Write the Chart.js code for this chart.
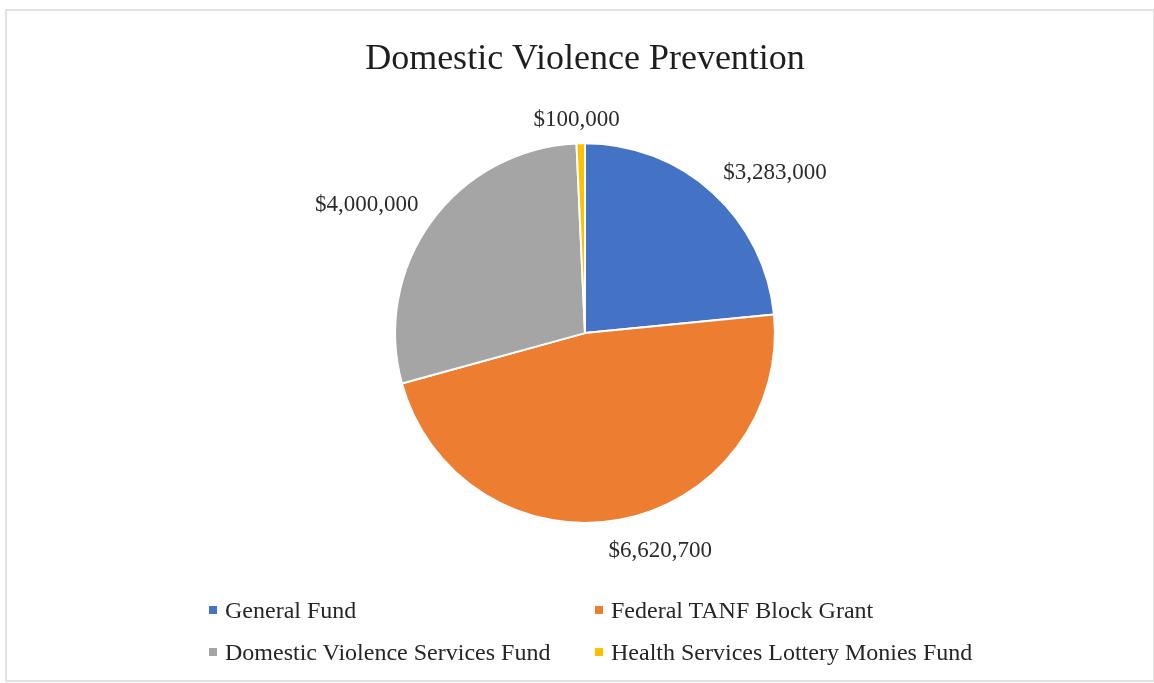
<!DOCTYPE html>
<html>
<head>
<meta charset="utf-8">
<title>Domestic Violence Prevention</title>
<script src="https://cdn.jsdelivr.net/npm/chart.js@4/dist/chart.umd.min.js"></script>
<style>
  html, body {
    margin: 0;
    padding: 0;
    background: #fff;
  }
  .chart-wrap {
    position: relative;
    width: 1154px;
    height: 683px;
    overflow: hidden;
  }
  .chart-frame {
    position: absolute;
    left: 5px;
    top: 9px;
    width: 1146px;
    height: 669px;
    border: 2px solid #e2e2e2;
  }
  .chart-wrap canvas {
    position: absolute;
    left: 0;
    top: 0;
  }
  .legend {
    position: absolute;
    left: 209px;
    top: 589px;
    display: grid;
    grid-template-columns: 386px auto;
    grid-auto-rows: 42px;
    font-family: "Liberation Serif", "Times New Roman", serif;
    font-size: 24px;
    color: #262626;
  }
  .legend-item {
    display: flex;
    align-items: center;
    white-space: nowrap;
  }
  .legend-box {
    width: 8px;
    height: 8px;
    margin-right: 8px;
    flex: none;
  }
</style>
</head>
<body>
<div class="chart-wrap">
  <div class="chart-frame"></div>
  <canvas id="dvChart"></canvas>
  <div class="legend" id="dvLegend"></div>
</div>
<script>
const chartTitle = "Domestic Violence Prevention";
const fundNames = [
  "General Fund",
  "Federal TANF Block Grant",
  "Domestic Violence Services Fund",
  "Health Services Lottery Monies Fund",
];
const fundAmounts = [3283000, 6620700, 4000000, 100000];
const fundColors = ["#4472C4", "#ED7D31", "#A5A5A5", "#FFC000"];

// legend reads across: row 1 = items 0,1 ; row 2 = items 2,3
function buildLegend() {
  const legend = document.getElementById("dvLegend");
  legend.innerHTML = fundNames
    .map(
      (name, i) => `
        <div class="legend-item">
            <span class="legend-box" style="background:${fundColors[i]}"></span>
            <span>${name}</span>
        </div>
    `
    )
    .join("");
}

function formatMoney(v) {
  return "$" + v.toLocaleString("en-US");
}

// draws the value labels just outside each slice
const outsideLabels = {
  id: "outsideLabels",
  afterDatasetsDraw(chart) {
    const ctx = chart.ctx;
    const meta = chart.getDatasetMeta(0);
    ctx.save();
    ctx.font = '23px "Liberation Serif", "Times New Roman", serif';
    ctx.fillStyle = "#2b2b2b";
    ctx.textAlign = "center";
    ctx.textBaseline = "middle";
    meta.data.forEach((arc, i) => {
      const p = arc.getProps(["x", "y", "startAngle", "endAngle", "outerRadius"], true);
      const mid = (p.startAngle + p.endAngle) / 2;
      const cos = Math.cos(mid);
      const sin = Math.sin(mid);
      const text = formatMoney(chart.data.datasets[0].data[i]);
      const halfW = ctx.measureText(text).width / 2;
      const halfH = 11.5;
      const dist = p.outerRadius + 16;
      const fx = Math.sign(cos) * Math.min(1, Math.abs(cos) * 4);
      const fy = Math.sign(sin) * Math.min(1, Math.abs(sin) * 4);
      const lx = p.x + dist * cos + halfW * fx;
      const ly = p.y + dist * sin + halfH * fy + 4;
      ctx.fillText(text, lx, ly);
    });
    ctx.restore();
  },
};

function renderChart() {
  const ctx = document.getElementById("dvChart");
  if (!ctx) {
    console.error("Canvas for the chart not found!");
    return;
  }

  new Chart(ctx, {
    type: "pie",
    data: {
      labels: fundNames,
      datasets: [
        {
          data: fundAmounts,
          backgroundColor: fundColors,
          borderColor: "#ffffff",
          borderWidth: 2,
        },
      ],
    },
    options: {
      responsive: true,
      maintainAspectRatio: false,
      animation: false,
      layout: {
        padding: { left: 16, right: 0, top: 0, bottom: 159 },
      },
      plugins: {
        legend: { display: false },
        tooltip: { enabled: false },
        title: {
          display: true,
          text: chartTitle,
          color: "#1e1e1e",
          font: {
            family: '"Liberation Serif", "Times New Roman", serif',
            size: 36,
            weight: "normal",
          },
          padding: { top: 38, bottom: 61 },
        },
      },
    },
    plugins: [outsideLabels],
  });
}

buildLegend();
renderChart();
</script>
</body>
</html>
